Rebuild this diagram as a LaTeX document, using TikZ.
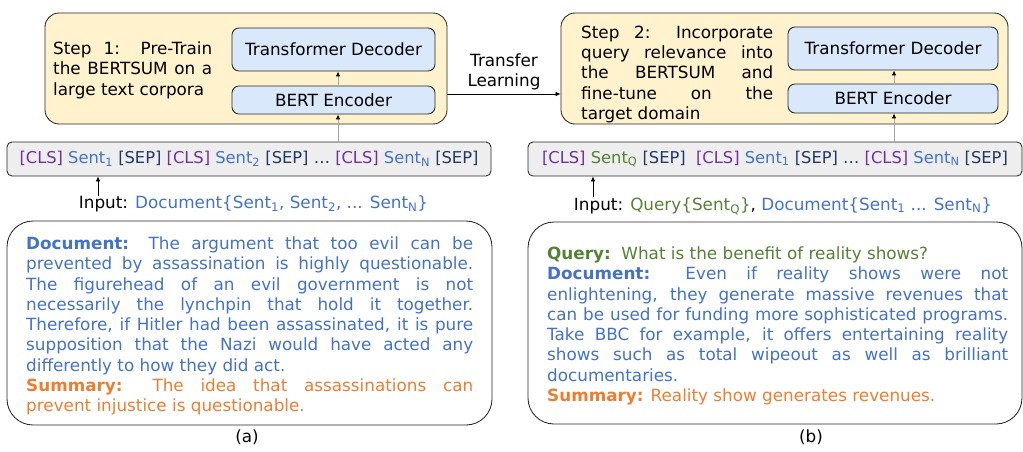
\documentclass[tikz,border=0pt]{standalone}
\usepackage{fontspec}
\setmainfont{DejaVu Sans}
\usetikzlibrary{arrows.meta,calc}
\definecolor{clsc}{HTML}{7030A0}
\definecolor{sb}{HTML}{4472C4}
\definecolor{sepc}{HTML}{203864}
\definecolor{grn}{HTML}{548235}
\definecolor{orn}{HTML}{ED7D31}
\definecolor{yelfill}{HTML}{FFF2CC}
\definecolor{blufill}{HTML}{DAE8FC}
\definecolor{tokfill}{HTML}{EEEEEE}
\newcommand{\jl}[2]{\makebox[#1][s]{#2}}
\newcommand{\tCLS}{\textcolor{clsc}{[CLS]}}
\newcommand{\tSEP}{\textcolor{sepc}{[SEP]}}
\newcommand{\tSent}[1]{\textcolor{sb}{Sent\textsubscript{#1}}}
\begin{document}
\begin{tikzpicture}[x=1pt,y=-1pt,
  every node/.style={font=\fontsize{16.8}{20.3}\selectfont, inner sep=0pt},
  box/.style={draw=black!85, line width=0.85pt},
  yelbox/.style={box, fill=yelfill, rounded corners=14pt},
  blubox/.style={box, fill=blufill, rounded corners=7pt},
  tokbox/.style={box, fill=tokfill, rounded corners=5pt, font=\fontsize{16.3}{20}\selectfont},
  docbox/.style={box, fill=white, rounded corners=26pt},
  txt/.style={anchor=north west, align=left},
  arr/.style={line width=0.7pt, -{Latex[length=5pt,width=4.5pt]}},
  garr/.style={line width=0.9pt, draw=black!35, -{Latex[length=5pt,width=4.5pt,black]}}
]
\useasboundingbox (0,0) rectangle (1023,452);

% ---------- left panel ----------
\node[yelbox, minimum width=402pt, minimum height=111pt] (yelL) at (246,68.5) {};
\node[blubox, minimum width=203pt, minimum height=43pt] (decL) at (333.5,49.5) {Transformer Decoder};
\node[blubox, minimum width=203pt, minimum height=28pt] (encL) at (333.5,100) {BERT Encoder};
\node[txt] (stepL) at (53,41.5) {%
\jl{159pt}{Step 1: Pre-Train}\\
\jl{159pt}{the BERTSUM on a}\\
large text corpora};
\node[tokbox, minimum width=484pt, minimum height=34pt] (tokL) at (249,159)
  {\tCLS{} \tSent{1} \tSEP{} \tCLS{} \tSent{2} \tSEP{} \textcolor{sepc}{…} \tCLS{} \tSent{N} \tSEP};
\node (inL) at (253.5,204) {Input: \textcolor{sb}{Document\{Sent\textsubscript{1}, Sent\textsubscript{2}, ... Sent\textsubscript{N}\}}};
\node[docbox, minimum width=485pt, minimum height=204pt] (docL) at (249.5,323) {};
\node[txt, text=sb] (docLt) at (26,236.5) {%
\jl{447pt}{\textbf{Document:} The argument that too evil can be}\\
\jl{447pt}{prevented by assassination is highly questionable.}\\
\jl{447pt}{The figurehead of an evil government is not}\\
\jl{447pt}{necessarily the lynchpin that hold it together.}\\
\jl{447pt}{Therefore, if Hitler had been assassinated, it is pure}\\
\jl{447pt}{supposition that the Nazi would have acted any}\\
differently to how they did act.\\
\textcolor{orn}{\jl{447pt}{\textbf{Summary:} The idea that assassinations can}}\\
\textcolor{orn}{prevent injustice is questionable.}};
\node (capA) at (247,437) {(a)};

% ---------- right panel ----------
\node[yelbox, minimum width=447pt, minimum height=111pt] (yelR) at (784.5,68.5) {};
\node[blubox, minimum width=210pt, minimum height=43pt] (decR) at (893,48.5) {Transformer Decoder};
\node[blubox, minimum width=210pt, minimum height=29pt] (encR) at (893,98.5) {BERT Encoder};
\node[txt] (stepR) at (581,25.5) {%
\jl{192pt}{Step 2: Incorporate}\\
\jl{192pt}{query relevance into}\\
\jl{192pt}{the BERTSUM and}\\
\jl{192pt}{fine-tune on the}\\
target domain};
\node[tokbox, minimum width=494pt, minimum height=34pt] (tokR) at (775,159)
  {\tCLS{} \textcolor{grn}{Sent\textsubscript{Q}} \tSEP{}\ \ \tCLS{} \tSent{1} \tSEP{} \textcolor{sepc}{…} \tCLS{} \tSent{N} \tSEP};
\node (inR) at (783,206) {Input: \textcolor{grn}{Query\{Sent\textsubscript{Q}\}}, \textcolor{sb}{Document\{Sent\textsubscript{1} ... Sent\textsubscript{N}\}}};
\node[docbox, minimum width=494pt, minimum height=202pt] (docR) at (775,323) {};
\node[txt, text=sb] (docRt) at (547,246.5) {%
\textcolor{grn}{\textbf{Query:}\ \ What is the benefit of reality shows?}\\
\jl{461pt}{\textbf{Document:} Even if reality shows were not}\\
\jl{461pt}{enlightening, they generate massive revenues that}\\
\jl{461pt}{can be used for funding more sophisticated programs.}\\
\jl{461pt}{Take BBC for example, it offers entertaining reality}\\
\jl{461pt}{shows such as total wipeout as well as brilliant}\\
documentaries.\\
\textcolor{orn}{\textbf{Summary:} Reality show generates revenues.}};
\node (capB) at (811,437) {(b)};

% ---------- transfer ----------
\node[align=center] (tl) at (504,72) {Transfer\\Learning};
\coordinate (ty) at (0,94);
\draw[arr] (yelL.east |- ty) -- (yelR.west |- ty);

% ---------- arrows ----------
\coordinate (aL) at (338,0);
\coordinate (aR) at (894,0);
\coordinate (iL) at (98,0);
\coordinate (iR) at (593,0);
\draw[garr] (tokL.north -| aL) -- (encL.south -| aL);
\draw[garr] (encL.north -| aL) -- (decL.south -| aL);
\draw[garr] (tokR.north -| aR) -- (encR.south -| aR);
\draw[garr] (encR.north -| aR) -- (decR.south -| aR);
\draw[arr] (inL.north -| iL) -- (tokL.south -| iL);
\draw[arr] (inR.north -| iR) -- (tokR.south -| iR);
\end{tikzpicture}
\end{document}
